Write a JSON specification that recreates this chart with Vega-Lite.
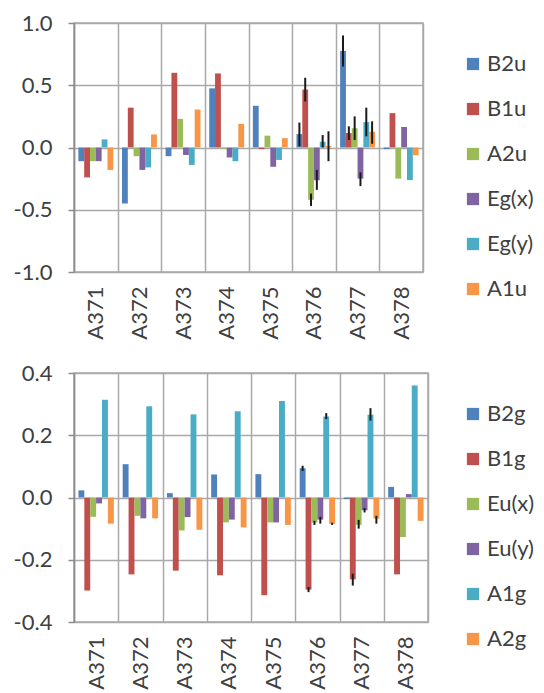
{
  "$schema": "https://vega.github.io/schema/vega-lite/v6.json",
  "padding": {"left": 12, "top": 11, "right": 0, "bottom": 0},
  "background": "white",
  "config": {
    "locale": {"number": {"decimal": ".", "thousands": ",", "grouping": [3], "currency": ["", ""], "minus": "-"}},
    "font": "Lato",
    "view": {"stroke": "#a9a9a9", "strokeWidth": 1.5},
    "axis": {
      "labelFont": "Lato",
      "labelFontSize": 22,
      "labelColor": "#404040",
      "gridColor": "#a9a9a9",
      "gridWidth": 1.5,
      "domainColor": "#8c8c8c",
      "domainWidth": 1.5,
      "tickColor": "#8c8c8c",
      "tickWidth": 1.5,
      "title": null
    },
    "legend": {
      "labelFont": "Lato",
      "labelFontSize": 22,
      "labelColor": "#404040",
      "symbolType": "square",
      "symbolSize": 150,
      "symbolStrokeWidth": 0,
      "rowPadding": 23,
      "labelOffset": 3,
      "padding": 0,
      "orient": "none",
      "legendX": 388,
      "legendY": 30,
      "title": null
    }
  },
  "datasets": {
    "u": [
      {"site": "A371", "mode": "B2u", "v": -0.11},
      {"site": "A371", "mode": "B1u", "v": -0.24},
      {"site": "A371", "mode": "A2u", "v": -0.11},
      {"site": "A371", "mode": "Eg(x)", "v": -0.11},
      {"site": "A371", "mode": "Eg(y)", "v": 0.065},
      {"site": "A371", "mode": "A1u", "v": -0.18},
      {"site": "A372", "mode": "B2u", "v": -0.45},
      {"site": "A372", "mode": "B1u", "v": 0.32},
      {"site": "A372", "mode": "A2u", "v": -0.07},
      {"site": "A372", "mode": "Eg(x)", "v": -0.18},
      {"site": "A372", "mode": "Eg(y)", "v": -0.16},
      {"site": "A372", "mode": "A1u", "v": 0.105},
      {"site": "A373", "mode": "B2u", "v": -0.07},
      {"site": "A373", "mode": "B1u", "v": 0.6},
      {"site": "A373", "mode": "A2u", "v": 0.23},
      {"site": "A373", "mode": "Eg(x)", "v": -0.06},
      {"site": "A373", "mode": "Eg(y)", "v": -0.14},
      {"site": "A373", "mode": "A1u", "v": 0.305},
      {"site": "A374", "mode": "B2u", "v": 0.475},
      {"site": "A374", "mode": "B1u", "v": 0.595},
      {"site": "A374", "mode": "A2u", "v": -0.01},
      {"site": "A374", "mode": "Eg(x)", "v": -0.08},
      {"site": "A374", "mode": "Eg(y)", "v": -0.11},
      {"site": "A374", "mode": "A1u", "v": 0.19},
      {"site": "A375", "mode": "B2u", "v": 0.335},
      {"site": "A375", "mode": "B1u", "v": -0.013},
      {"site": "A375", "mode": "A2u", "v": 0.095},
      {"site": "A375", "mode": "Eg(x)", "v": -0.155},
      {"site": "A375", "mode": "Eg(y)", "v": -0.1},
      {"site": "A375", "mode": "A1u", "v": 0.075},
      {"site": "A376", "mode": "B2u", "v": 0.108, "lo": 0.01, "hi": 0.2},
      {"site": "A376", "mode": "B1u", "v": 0.465, "lo": 0.37, "hi": 0.56},
      {"site": "A376", "mode": "A2u", "v": -0.42, "lo": -0.47, "hi": -0.37},
      {"site": "A376", "mode": "Eg(x)", "v": -0.263, "lo": -0.34, "hi": -0.18},
      {"site": "A376", "mode": "Eg(y)", "v": 0.046, "lo": 0.0, "hi": 0.1},
      {"site": "A376", "mode": "A1u", "v": 0.013, "lo": -0.11, "hi": 0.13},
      {"site": "A377", "mode": "B2u", "v": 0.776, "lo": 0.65, "hi": 0.9},
      {"site": "A377", "mode": "B1u", "v": 0.116, "lo": 0.06, "hi": 0.17},
      {"site": "A377", "mode": "A2u", "v": 0.155, "lo": 0.06, "hi": 0.25},
      {"site": "A377", "mode": "Eg(x)", "v": -0.25, "lo": -0.31, "hi": -0.2},
      {"site": "A377", "mode": "Eg(y)", "v": 0.204, "lo": 0.09, "hi": 0.32},
      {"site": "A377", "mode": "A1u", "v": 0.127, "lo": 0.03, "hi": 0.21},
      {"site": "A378", "mode": "B2u", "v": -0.013},
      {"site": "A378", "mode": "B1u", "v": 0.276},
      {"site": "A378", "mode": "A2u", "v": -0.25},
      {"site": "A378", "mode": "Eg(x)", "v": 0.165},
      {"site": "A378", "mode": "Eg(y)", "v": -0.262},
      {"site": "A378", "mode": "A1u", "v": -0.062}
    ],
    "g": [
      {"site": "A371", "mode": "B2g", "v": 0.023},
      {"site": "A371", "mode": "B1g", "v": -0.299},
      {"site": "A371", "mode": "Eu(x)", "v": -0.062},
      {"site": "A371", "mode": "Eu(y)", "v": -0.019},
      {"site": "A371", "mode": "A1g", "v": 0.314},
      {"site": "A371", "mode": "A2g", "v": -0.084},
      {"site": "A372", "mode": "B2g", "v": 0.107},
      {"site": "A372", "mode": "B1g", "v": -0.247},
      {"site": "A372", "mode": "Eu(x)", "v": -0.059},
      {"site": "A372", "mode": "Eu(y)", "v": -0.067},
      {"site": "A372", "mode": "A1g", "v": 0.293},
      {"site": "A372", "mode": "A2g", "v": -0.067},
      {"site": "A373", "mode": "B2g", "v": 0.014},
      {"site": "A373", "mode": "B1g", "v": -0.235},
      {"site": "A373", "mode": "Eu(x)", "v": -0.106},
      {"site": "A373", "mode": "Eu(y)", "v": -0.063},
      {"site": "A373", "mode": "A1g", "v": 0.267},
      {"site": "A373", "mode": "A2g", "v": -0.104},
      {"site": "A374", "mode": "B2g", "v": 0.074},
      {"site": "A374", "mode": "B1g", "v": -0.25},
      {"site": "A374", "mode": "Eu(x)", "v": -0.08},
      {"site": "A374", "mode": "Eu(y)", "v": -0.071},
      {"site": "A374", "mode": "A1g", "v": 0.277},
      {"site": "A374", "mode": "A2g", "v": -0.096},
      {"site": "A375", "mode": "B2g", "v": 0.075},
      {"site": "A375", "mode": "B1g", "v": -0.314},
      {"site": "A375", "mode": "Eu(x)", "v": -0.08},
      {"site": "A375", "mode": "Eu(y)", "v": -0.08},
      {"site": "A375", "mode": "A1g", "v": 0.31},
      {"site": "A375", "mode": "A2g", "v": -0.088},
      {"site": "A376", "mode": "B2g", "v": 0.094, "lo": 0.085, "hi": 0.102},
      {"site": "A376", "mode": "B1g", "v": -0.296, "lo": -0.304, "hi": -0.288},
      {"site": "A376", "mode": "Eu(x)", "v": -0.08, "lo": -0.088, "hi": -0.075},
      {"site": "A376", "mode": "Eu(y)", "v": -0.071, "lo": -0.084, "hi": -0.062},
      {"site": "A376", "mode": "A1g", "v": 0.26, "lo": 0.252, "hi": 0.271},
      {"site": "A376", "mode": "A2g", "v": -0.084, "lo": -0.088, "hi": -0.081},
      {"site": "A377", "mode": "B2g", "v": -0.005},
      {"site": "A377", "mode": "B1g", "v": -0.263, "lo": -0.283, "hi": -0.245},
      {"site": "A377", "mode": "Eu(x)", "v": -0.088, "lo": -0.1, "hi": -0.072},
      {"site": "A377", "mode": "Eu(y)", "v": -0.041, "lo": -0.048, "hi": -0.034},
      {"site": "A377", "mode": "A1g", "v": 0.266, "lo": 0.247, "hi": 0.287},
      {"site": "A377", "mode": "A2g", "v": -0.068, "lo": -0.084, "hi": -0.059},
      {"site": "A378", "mode": "B2g", "v": 0.034},
      {"site": "A378", "mode": "B1g", "v": -0.247},
      {"site": "A378", "mode": "Eu(x)", "v": -0.127},
      {"site": "A378", "mode": "Eu(y)", "v": 0.011},
      {"site": "A378", "mode": "A1g", "v": 0.36},
      {"site": "A378", "mode": "A2g", "v": -0.075}
    ]
  },
  "vconcat": [
    {
      "width": 349,
      "height": 249,
      "data": {"name": "u"},
      "encoding": {
        "x": {
          "field": "site",
          "type": "nominal",
          "scale": {"paddingInner": 0, "paddingOuter": 0},
          "axis": {"tickBand": "extent", "ticks": false, "domain": false, "labelAngle": -90, "labelPadding": 14, "grid": true}
        },
        "xOffset": {
          "field": "mode",
          "type": "nominal",
          "scale": {"domain": ["B2u", "B1u", "A2u", "Eg(x)", "Eg(y)", "A1u"], "paddingInner": 0, "paddingOuter": 0.75}
        }
      },
      "layer": [
        {
          "mark": "bar",
          "encoding": {
            "y": {
              "field": "v",
              "type": "quantitative",
              "scale": {"domain": [-1, 1], "nice": false},
              "axis": {"values": [-1, -0.5, 0, 0.5, 1], "format": ".1f", "tickSize": 6, "labelPadding": 16}
            },
            "color": {
              "field": "mode",
              "type": "nominal",
              "scale": {"domain": ["B2u", "B1u", "A2u", "Eg(x)", "Eg(y)", "A1u"], "range": ["#4f81bd", "#c0504d", "#9bbb59", "#8064a2", "#4bacc6", "#f79646"]}
            }
          }
        },
        {
          "transform": [{"filter": "isValid(datum.lo)"}],
          "mark": {"type": "rule", "color": "#1a1a1a", "strokeWidth": 2},
          "encoding": {
            "y": {"field": "lo", "type": "quantitative"},
            "y2": {"field": "hi"}
          }
        }
      ]
    },
    {
      "width": 354,
      "height": 249,
      "data": {"name": "g"},
      "encoding": {
        "x": {
          "field": "site",
          "type": "nominal",
          "scale": {"paddingInner": 0, "paddingOuter": 0},
          "axis": {"tickBand": "extent", "ticks": false, "domain": false, "labelAngle": -90, "labelPadding": 14, "grid": true}
        },
        "xOffset": {
          "field": "mode",
          "type": "nominal",
          "scale": {"domain": ["B2g", "B1g", "Eu(x)", "Eu(y)", "A1g", "A2g"], "paddingInner": 0, "paddingOuter": 0.75}
        }
      },
      "layer": [
        {
          "mark": "bar",
          "encoding": {
            "y": {
              "field": "v",
              "type": "quantitative",
              "scale": {"domain": [-0.4, 0.4], "nice": false},
              "axis": {"values": [-0.4, -0.2, 0, 0.2, 0.4], "format": ".1f", "tickSize": 6, "labelPadding": 16}
            },
            "color": {
              "field": "mode",
              "type": "nominal",
              "scale": {"domain": ["B2g", "B1g", "Eu(x)", "Eu(y)", "A1g", "A2g"], "range": ["#4f81bd", "#c0504d", "#9bbb59", "#8064a2", "#4bacc6", "#f79646"]}
            }
          }
        },
        {
          "transform": [{"filter": "isValid(datum.lo)"}],
          "mark": {"type": "rule", "color": "#1a1a1a", "strokeWidth": 2},
          "encoding": {
            "y": {"field": "lo", "type": "quantitative"},
            "y2": {"field": "hi"}
          }
        }
      ]
    }
  ],
  "spacing": 101,
  "bounds": "flush",
  "resolve": {"scale": {"x": "independent", "y": "independent", "xOffset": "independent", "color": "independent"}}
}
